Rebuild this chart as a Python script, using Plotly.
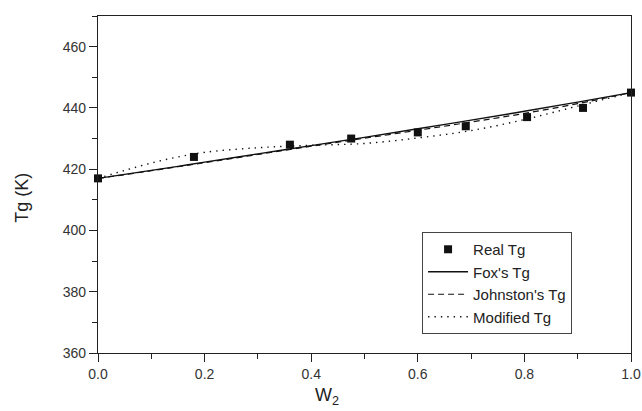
import plotly.graph_objects as go

w_real = [0.0, 0.18, 0.36, 0.475, 0.60, 0.69, 0.805, 0.91, 1.0]
tg_real = [417, 424, 428, 430, 432, 434, 437, 440, 445]

w_curve = [0.0, 0.05, 0.1, 0.15, 0.2, 0.3, 0.4, 0.5, 0.6, 0.7, 0.8, 0.9, 1.0]
tg_fox = [417, 418.3, 419.6, 420.9, 422.3, 425.0, 427.7, 430.4, 433.2, 436.0, 438.9, 441.9, 445]
tg_johnston = [417, 418.2, 419.5, 420.8, 422.1, 424.8, 427.5, 430.1, 432.7, 435.4, 438.2, 441.4, 445]
tg_modified = [417, 419.6, 422.0, 424.0, 425.5, 427.0, 427.8, 428.4, 430.2, 432.6, 436.2, 440.6, 445]

FONT = "Liberation Sans, Arial"

fig = go.Figure()
fig.add_trace(go.Scatter(x=w_real, y=tg_real, mode="markers", name="Real Tg",
                         marker=dict(symbol="square", size=8, color="#111"), cliponaxis=False))
fig.add_trace(go.Scatter(x=w_curve, y=tg_fox, mode="lines", name="Fox's Tg",
                         line=dict(color="#111", width=1.4, shape="spline")))
fig.add_trace(go.Scatter(x=w_curve, y=tg_johnston, mode="lines", name="Johnston's Tg",
                         line=dict(color="#111", width=1.2, dash="6px,4px", shape="spline")))
fig.add_trace(go.Scatter(x=w_curve, y=tg_modified, mode="lines", name="Modified Tg",
                         line=dict(color="#111", width=1.4, dash="1.4px,5px", shape="spline")))

axis_common = dict(showline=True, linecolor="#222", linewidth=1.3, mirror=True,
                   showgrid=False, zeroline=False, ticks="outside", ticklen=8,
                   tickcolor="#222", tickwidth=1.2, automargin=False,
                   tickfont=dict(family=FONT, size=14, color="#333"))

fig.update_xaxes(range=[0, 1.0], dtick=0.2, tickformat=".1f",
                 minor=dict(dtick=0.1, ticks="outside", ticklen=5, tickcolor="#222"),
                 **axis_common)
fig.update_yaxes(range=[360, 470], tickvals=[360, 380, 400, 420, 440, 460],
                 minor=dict(tickvals=[370, 390, 410, 430, 450, 470], ticks="outside", ticklen=5, tickcolor="#222"),
                 **axis_common)

fig.add_annotation(text="W<sub>2</sub>", xref="paper", yref="paper", x=0.43, y=-0.088,
                   xanchor="center", yanchor="top", showarrow=False,
                   font=dict(family=FONT, size=18, color="#222"))
fig.add_annotation(text="Tg (K)", xref="paper", yref="paper", x=-0.143, y=0.46,
                   xanchor="center", yanchor="middle", textangle=-90, showarrow=False,
                   font=dict(family=FONT, size=18, color="#222"))

fig.update_layout(
    width=642, height=411,
    margin=dict(l=98, r=11, t=16, b=58),
    plot_bgcolor="white", paper_bgcolor="white",
    legend=dict(x=0.608, y=0.359, xanchor="left", yanchor="top",
                bordercolor="#444", borderwidth=1, bgcolor="white",
                font=dict(family=FONT, size=15, color="#222"),
                tracegroupgap=0, itemwidth=40),
    showlegend=True,
)

fig.write_html("out.html", config={"displayModeBar": False},
               post_script="document.body.style.margin='0';document.body.style.overflow='hidden';")
